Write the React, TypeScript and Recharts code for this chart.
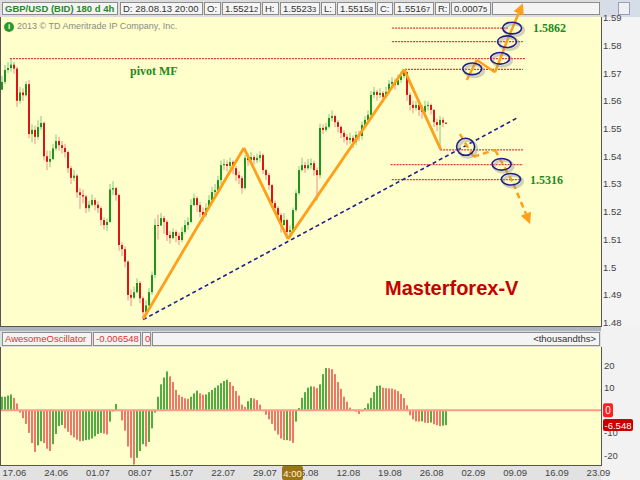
import React from "react";
import {
  ComposedChart,
  Bar,
  Cell,
  XAxis,
  YAxis,
  CartesianGrid,
  ReferenceLine,
  ReferenceDot,
} from "recharts";

// GBP/USD, one bar per ~half day
const FIRST_OPEN = 1.564;
const CLOSE = [
  1.5668, 1.5711, 1.5718, 1.573, 1.5716, 1.56, 1.563, 1.562, 1.566, 1.548,
  1.5495, 1.547, 1.5505, 1.552, 1.54, 1.538, 1.539, 1.5428, 1.5455, 1.544,
  1.543, 1.5415, 1.5357, 1.5322, 1.533, 1.527, 1.526, 1.5255, 1.5213, 1.5225,
  1.5242, 1.5225, 1.5213, 1.517, 1.5152, 1.5163, 1.528, 1.5285, 1.526, 1.508,
  1.5065, 1.502, 1.49, 1.489, 1.491, 1.4943, 1.4888, 1.4838, 1.4862, 1.491,
  1.4972, 1.5152, 1.515, 1.5177, 1.5163, 1.5116, 1.5105, 1.5127, 1.5113, 1.5098,
  1.5127, 1.5152, 1.5163, 1.5224, 1.5249, 1.5224, 1.5199, 1.5188, 1.5213, 1.5242,
  1.5271, 1.5278, 1.5314, 1.5368, 1.5372, 1.5365, 1.5379, 1.5357, 1.5332, 1.5321,
  1.5285, 1.5394, 1.5386, 1.5397, 1.5386, 1.5394, 1.5404, 1.535, 1.5332, 1.5296,
  1.5231, 1.5213, 1.5188, 1.5152, 1.517, 1.5127, 1.5134, 1.5206, 1.5267, 1.535,
  1.5368, 1.5357, 1.5368, 1.5375, 1.535, 1.5332, 1.5502, 1.5495, 1.5506, 1.5538,
  1.5545, 1.5523, 1.5506, 1.5484, 1.547, 1.5459, 1.5466, 1.5452, 1.5477, 1.5473,
  1.5513, 1.5531, 1.5549, 1.5621, 1.5632, 1.5621, 1.5628, 1.5614, 1.5632, 1.5661,
  1.5668, 1.5657, 1.5675, 1.5689, 1.5704, 1.5621, 1.5585, 1.5574, 1.5585, 1.5567,
  1.556, 1.5581, 1.5585, 1.5567, 1.5523, 1.5513, 1.5531, 1.5521, 1.5517,
];
const HIGH = [
  1.569, 1.5729, 1.574, 1.5752, 1.574, 1.5722, 1.565, 1.5645, 1.567, 1.5675,
  1.5515, 1.551, 1.553, 1.5545, 1.5525, 1.542, 1.542, 1.5445, 1.5478, 1.547,
  1.5455, 1.5445, 1.542, 1.5365, 1.535, 1.5335, 1.5285, 1.528, 1.526, 1.524,
  1.5262, 1.525, 1.5238, 1.522, 1.518, 1.5175, 1.53, 1.531, 1.529, 1.5265,
  1.509, 1.5075, 1.5025, 1.492, 1.493, 1.496, 1.495, 1.4895, 1.488, 1.4925,
  1.4985, 1.5175, 1.519, 1.5195, 1.5185, 1.517, 1.513, 1.514, 1.5135, 1.5125,
  1.5145, 1.517, 1.518, 1.5245, 1.5265, 1.5255, 1.5235, 1.5215, 1.523, 1.526,
  1.529, 1.53, 1.533, 1.5385, 1.539, 1.5385, 1.5395, 1.5385, 1.5365, 1.5345,
  1.533, 1.5405, 1.541, 1.5415, 1.5405, 1.541, 1.5418, 1.541, 1.5355, 1.534,
  1.53, 1.524, 1.522, 1.5195, 1.5195, 1.5175, 1.515, 1.5215, 1.528, 1.5365,
  1.5395, 1.538, 1.539, 1.5392, 1.5385, 1.536, 1.5518, 1.5515, 1.552, 1.5552,
  1.5565, 1.555, 1.553, 1.551, 1.5495, 1.548, 1.5485, 1.5475, 1.549, 1.5492,
  1.5525, 1.5545, 1.5565, 1.5635, 1.565, 1.564, 1.5645, 1.5635, 1.565, 1.5675,
  1.5685, 1.568, 1.5695, 1.5705, 1.5714, 1.5705, 1.563, 1.56, 1.56, 1.5595,
  1.5585, 1.56, 1.5598, 1.559, 1.557, 1.5535, 1.5545, 1.554, 1.5523,
];
const LOW = [
  1.564, 1.566, 1.57, 1.5705, 1.5698, 1.5578, 1.559, 1.56, 1.5615, 1.5465,
  1.545, 1.5445, 1.546, 1.5495, 1.5385, 1.535, 1.536, 1.5385, 1.542, 1.542,
  1.541, 1.5395, 1.534, 1.53, 1.531, 1.525, 1.521, 1.523, 1.5195, 1.52,
  1.522, 1.5205, 1.5195, 1.515, 1.5135, 1.513, 1.516, 1.526, 1.524, 1.506,
  1.504, 1.5, 1.488, 1.486, 1.4885, 1.4905, 1.487, 1.4813, 1.4835, 1.486,
  1.49, 1.496, 1.51, 1.515, 1.512, 1.5095, 1.5085, 1.51, 1.509, 1.508,
  1.509, 1.512, 1.5135, 1.516, 1.522, 1.52, 1.518, 1.5165, 1.518, 1.521,
  1.524, 1.5255, 1.5265, 1.53, 1.535, 1.5345, 1.5355, 1.5335, 1.531, 1.53,
  1.5265, 1.528, 1.5365, 1.5375, 1.537, 1.5375, 1.538, 1.5335, 1.5315, 1.528,
  1.5215, 1.5195, 1.517, 1.5125, 1.515, 1.511, 1.5105, 1.513, 1.52, 1.526,
  1.5345, 1.534, 1.535, 1.5355, 1.533, 1.524, 1.532, 1.548, 1.5488, 1.55,
  1.5525, 1.5505, 1.5485, 1.5465, 1.545, 1.544, 1.5445, 1.543, 1.544, 1.5455,
  1.546, 1.551, 1.5525, 1.5545, 1.561, 1.56, 1.561, 1.5595, 1.561, 1.5625,
  1.565, 1.564, 1.5655, 1.5665, 1.568, 1.56, 1.5565, 1.5555, 1.5565, 1.5545,
  1.5535, 1.5555, 1.5565, 1.555, 1.5505, 1.549, 1.5426, 1.5505, 1.5516,
];
// Awesome Oscillator, thousandths
const AO = [
  6, 6, 6.5, 7, 5.5, 3, -1, -3.5, -6, -10,
  -14.5, -18.4, -15.5, -13.7, -14.5, -17, -18, -15, -10.5, -7,
  -6.5, -8, -9.5, -11, -12, -13, -13.7, -13.5, -13.2, -13,
  -12.5, -11.5, -10.5, -10, -10.3, -10.7, -5, -0.5, 2.8, 0,
  -4.5, -9, -16, -21, -24, -21, -18, -15, -16, -14,
  -8, -1, 6, 11.5, 14.5, 17.2, 15, 12.5, 9, 6.8,
  6, 5.3, 5.1, 6, 7.5, 8.7, 7.5, 6.9, 7, 8,
  9, 10, 11, 12, 13, 13.5, 12.5, 10.8, 8.5, 6.5,
  2.5, 1.5, 4, 5.4, 5.2, 4.5, 2.5, -0.4, -2, -4,
  -6, -9, -10.7, -12.5, -13.2, -13.2, -13.5, -14.4, -5, 1,
  5.5, 8, 10, 10.6, 10.5, 9.8, 11.5, 16, 18.7, 18.6,
  18.2, 16, 12.5, 9.5, 6, 3.8, 1.2, 0.3, -0.6, -1.6,
  -0.5, 1, 3, 5.5, 8, 10.8, 11, 10, 9.8, 9.7,
  9.6, 9.2, 8.5, 7.2, 5.4, 2.2, -2.2, -4, -4.9, -5,
  -4.9, -5.5, -5.6, -5.4, -6.2, -6.6, -7, -6.8, -6.548,
];

const PRICE_TICKS = [1.48, 1.49, 1.5, 1.51, 1.52, 1.53, 1.54, 1.55, 1.56, 1.57, 1.58, 1.59];
const OSC_TICKS = [20, 10, -10, -20, 0, -6.548];
const DATE_LABELS = ["17.06", "24.06", "01.07", "08.07", "15.07", "22.07", "29.07", "05.08", "12.08", "19.08", "26.08", "02.09", "09.09", "16.09", "23.09"];
const DATE_POS = [4.8, 18.7, 32.6, 46.6, 60.5, 74.4, 88.3, 102.2, 116.1, 130.0, 143.9, 157.8, 171.7, 185.6, 199.5];

// drawings on the price panel, [bar, price]
const WAVE = [[47.7, 1.4813], [81.3, 1.543], [96, 1.5102], [134.7, 1.5713], [146.9, 1.5425]];
const TREND = [[47.7, 1.4811], [172.2, 1.5537]];
const LEVELS = [
  { p: 1.5862, from: 130.7, to: 169.3 },
  { p: 1.5813, from: 130.7, to: 174.3 },
  { p: 1.5752, from: 3.3, to: 175 },
  { p: 1.5713, from: 135, to: 174.3 },
  { p: 1.5423, from: 146.7, to: 174.3 },
  { p: 1.537, from: 130.2, to: 174.3 },
  { p: 1.5316, from: 130.6, to: 173.9 },
];
const RINGS = [
  [170.7, 1.5862], [169, 1.5813], [166.7, 1.5753], [157.4, 1.5715],
  [155.2, 1.5434], [167.2, 1.5371], [170.3, 1.5317],
];
const UP_PATH = [[155.6, 1.5675], [158.9, 1.5747], [165, 1.5703], [168.9, 1.5813], [174.3, 1.5952]];
const DOWN_PATH = [[153.3, 1.548], [157.8, 1.5398], [165, 1.5423], [171.1, 1.5302], [176.7, 1.5156]];

const candles = CLOSE.map((c, i) => ({
  t: i + 0.5,
  open: i === 0 ? FIRST_OPEN : CLOSE[i - 1],
  high: HIGH[i],
  low: LOW[i],
  close: c,
  range: [LOW[i], HIGH[i]],
}));
const osc = AO.map((v, i) => ({ t: i + 0.5, ao: v, up: i === 0 || v >= AO[i - 1] }));

const FONT = "'Liberation Sans', Arial, sans-serif";
const SERIF = "'Liberation Serif', 'Times New Roman', serif";
const ORANGE = "#ff9f1a";
const NAVY = "#1e1e8c";
const X_DOMAIN: [number, number] = [0, 200.33];

const renderCandle = (props: any) => {
  const { x, y, width, height, payload } = props;
  if (!payload || height == null) return <g />;
  const { open, close, high, low } = payload;
  const cx = Math.round(x + width / 2);
  const k = height / (high - low || 1e-6);
  const top = y + (high - Math.max(open, close)) * k;
  const bot = y + (high - Math.min(open, close)) * k;
  const up = close >= open;
  return (
    <g>
      <line x1={cx} x2={cx} y1={y} y2={y + height} stroke={up ? "#82c882" : "#f08c8c"} strokeWidth={1} />
      <rect x={cx - 1} y={top} width={2} height={Math.max(1, bot - top)} fill={up ? "#1e961e" : "#dc1414"} />
    </g>
  );
};

const arrowShape = (dashed: boolean) => (props: any) => {
  const { x1, y1, x2, y2 } = props;
  const a = Math.atan2(y2 - y1, x2 - x1);
  const bx = x2 - 11 * Math.cos(a);
  const by = y2 - 11 * Math.sin(a);
  const px = -Math.sin(a) * 5.5;
  const py = Math.cos(a) * 5.5;
  return (
    <g>
      <line x1={x1} y1={y1} x2={bx} y2={by} stroke={ORANGE} strokeWidth={2.5} strokeDasharray={dashed ? "6 4" : undefined} />
      <polygon points={`${x2},${y2} ${bx + px},${by + py} ${bx - px},${by - py}`} fill={ORANGE} />
    </g>
  );
};

const ringShape = (props: any) => {
  const { cx, cy, index } = props;
  const big = index === 4;
  const rx = big ? 9 : 9.5;
  const ry = big ? 8.5 : 5.8;
  return (
    <g>
      <ellipse cx={cx + 2} cy={cy + 2} rx={rx} ry={ry} fill="none" stroke="#9a9a9a" strokeOpacity={0.45} strokeWidth={3} />
      <ellipse cx={cx} cy={cy} rx={rx} ry={ry} fill="none" stroke={NAVY} strokeWidth={1.6} />
    </g>
  );
};

const priceLabel = (text: string) => (props: any) => (
  <text x={props.cx} y={props.cy} dy={4} fill="#1d8a1d" fontSize={12} fontWeight="bold" fontFamily={SERIF}>
    {text}
  </text>
);

const PriceTick = ({ y, payload }: any) => (
  <text x={603} y={y} dy={3.5} fontSize={9.5} fill="#444" fontFamily={FONT}>
    {String(Math.round(payload.value * 100) / 100)}
  </text>
);

const OscTick = ({ y, payload }: any) => {
  const v = payload.value;
  if (v === 0)
    return (
      <g>
        <rect x={603} y={y - 7} width={10} height={14} rx={2} fill="#ff2020" />
        <text x={608} y={y} dy={3.5} textAnchor="middle" fontSize={10} fill="#fff" fontFamily={FONT}>0</text>
      </g>
    );
  if (v === AO[AO.length - 1])
    return (
      <g>
        <rect x={603} y={y - 6} width={30} height={12} rx={2} fill="#c80000" />
        <text x={618} y={y} dy={3.5} textAnchor="middle" fontSize={9.5} fill="#fff" fontFamily={FONT}>{v.toFixed(3)}</text>
      </g>
    );
  return (
    <text x={604} y={y} dy={3.5} fontSize={9.5} fill="#444" fontFamily={FONT}>{v}</text>
  );
};

const DateTick = ({ x, payload }: any) => {
  const label = DATE_LABELS[DATE_POS.indexOf(payload.value)];
  return (
    <g>
      <text x={x} y={129} textAnchor="middle" fontSize={9.5} fill="#444" fontFamily={FONT}>{label}</text>
      {label === "05.08" && (
        <g>
          <rect x={282} y={119} width={21} height={14} rx={2} fill="#9c7418" />
          <text x={292.5} y={129.5} textAnchor="middle" fontSize={9.5} fill="#fff4d0" fontFamily={FONT}>4:00</text>
        </g>
      )}
    </g>
  );
};

const HEADER = [
  { x: 2, w: 116, text: "GBP/USD (BID) 180 d 4h", sub: "", strong: true },
  { x: 120, w: 83, text: "D: 28.08.13 20:00", sub: "" },
  { x: 204, w: 17, text: "O:", sub: "" },
  { x: 222, w: 39, text: "1.5521", sub: "2" },
  { x: 262, w: 17, text: "H:", sub: "" },
  { x: 280, w: 40, text: "1.5523", sub: "3" },
  { x: 321, w: 15, text: "L:", sub: "" },
  { x: 337, w: 39, text: "1.5515", sub: "8" },
  { x: 377, w: 16, text: "C:", sub: "" },
  { x: 394, w: 40, text: "1.5516", sub: "7" },
  { x: 435, w: 15, text: "R:", sub: "" },
  { x: 451, w: 40, text: "0.0007", sub: "5" },
  { x: 492, w: 108, text: "", sub: "" },
];

const OSC_HEADER = [
  { x: 2, w: 90, text: "AwesomeOscillator" },
  { x: 93, w: 48, text: "-0.006548" },
  { x: 142, w: 9, text: "0" },
];

const cell = (x: number, y: number, w: number): React.CSSProperties => ({
  position: "absolute",
  left: x,
  top: y,
  width: w,
  height: 13,
  boxSizing: "border-box",
  border: "1px solid #8c8c8c",
  background: "#f4f4f4",
  fontSize: 9.5,
  lineHeight: "11px",
  paddingLeft: 2,
  whiteSpace: "nowrap",
  overflow: "hidden",
  color: "#333",
});

const pairs = (pts: number[][]) => pts.slice(1).map((p, i) => [pts[i], p]);

export default function App() {
  return (
    <div style={{ position: "absolute", left: 0, top: 0, width: 640, height: 480, overflow: "hidden", background: "#e2e2e2", fontFamily: FONT }}>
      {/* header strip */}
      <div style={{ position: "absolute", left: 0, top: 0, width: 601, height: 17, background: "#dcdcdc" }} />
      <div style={{ position: "absolute", left: 601, top: 0, width: 39, height: 17, background: "#d6dce8" }} />
      <div style={{ position: "absolute", left: 618, top: 2, width: 10, height: 11, background: "#eef0f4", border: "1px solid #9aa0b0" }} />
      {HEADER.map((c) => (
        <div key={c.x} style={{ ...cell(c.x, 2, c.w), color: c.strong ? "#1c8c1c" : "#333", fontWeight: c.strong ? "bold" : "normal" }}>
          {c.text}
          {c.sub && <span style={{ fontSize: 7.5 }}>{c.sub}</span>}
        </div>
      ))}
      {/* axis backgrounds */}
      <div style={{ position: "absolute", left: 601, top: 17, width: 39, height: 310, background: "#f4f4f4" }} />
      <div style={{ position: "absolute", left: 0, top: 326, width: 601, height: 5, background: "#aeb3c0" }} />
      <div style={{ position: "absolute", left: 0, top: 331, width: 601, height: 16, background: "#dedede" }} />
      {OSC_HEADER.map((c) => (
        <div key={c.x} style={{ ...cell(c.x, 332, c.w), height: 14, color: "#e03030", lineHeight: "12px" }}>{c.text}</div>
      ))}
      <div style={{ ...cell(152, 332, 448), height: 14, lineHeight: "12px", textAlign: "right", paddingRight: 3 }}>{"<thousandths>"}</div>
      <div style={{ position: "absolute", left: 601, top: 327, width: 39, height: 153, background: "#f2f2f2" }} />

      {/* price panel */}
      <div style={{ position: "absolute", left: 0, top: 0 }}>
        <ComposedChart width={640} height={332} data={candles} margin={{ top: 17, right: 0, bottom: 6, left: 0 }}>
          <CartesianGrid fill="#ffffcc" horizontal={false} vertical={false} />
          <XAxis type="number" dataKey="t" domain={X_DOMAIN} hide allowDataOverflow />
          <YAxis
            orientation="right"
            width={39}
            domain={[1.4788, 1.5902]}
            ticks={PRICE_TICKS}
            interval={0}
            allowDataOverflow
            axisLine={false}
            tickLine={false}
            tick={<PriceTick />}
          />
          {LEVELS.map((l) => (
            <ReferenceLine
              key={l.p}
              segment={[{ x: l.from, y: l.p }, { x: l.to, y: l.p }]}
              stroke="#e03a3a"
              strokeWidth={1.2}
              strokeDasharray="2 1"
              ifOverflow="visible"
            />
          ))}
          <Bar dataKey="range" barSize={2} shape={renderCandle} isAnimationActive={false} />
          <ReferenceLine
            segment={[{ x: TREND[0][0], y: TREND[0][1] }, { x: TREND[1][0], y: TREND[1][1] }]}
            stroke={NAVY}
            strokeWidth={1.6}
            strokeDasharray="4 3"
            ifOverflow="visible"
          />
          {pairs(WAVE).map(([a, b], i) => (
            <ReferenceLine key={"w" + i} segment={[{ x: a[0], y: a[1] }, { x: b[0], y: b[1] }]} stroke={ORANGE} strokeWidth={2.8} ifOverflow="visible" />
          ))}
          {pairs(UP_PATH).map(([a, b], i, arr) =>
            i === arr.length - 1 ? (
              <ReferenceLine key={"u" + i} segment={[{ x: a[0], y: a[1] }, { x: b[0], y: b[1] }]} shape={arrowShape(false)} ifOverflow="visible" />
            ) : (
              <ReferenceLine key={"u" + i} segment={[{ x: a[0], y: a[1] }, { x: b[0], y: b[1] }]} stroke={ORANGE} strokeWidth={2.5} ifOverflow="visible" />
            )
          )}
          {pairs(DOWN_PATH).map(([a, b], i, arr) =>
            i === arr.length - 1 ? (
              <ReferenceLine key={"d" + i} segment={[{ x: a[0], y: a[1] }, { x: b[0], y: b[1] }]} shape={arrowShape(true)} ifOverflow="visible" />
            ) : (
              <ReferenceLine key={"d" + i} segment={[{ x: a[0], y: a[1] }, { x: b[0], y: b[1] }]} stroke={ORANGE} strokeWidth={2.5} strokeDasharray="6 4" ifOverflow="visible" />
            )
          )}
          {RINGS.map(([t, p], i) => (
            <ReferenceDot key={"r" + i} x={t} y={p} r={6} shape={(props: any) => ringShape({ ...props, index: i })} ifOverflow="visible" />
          ))}
          <ReferenceDot x={177.7} y={1.5862} r={1} shape={priceLabel("1.5862")} ifOverflow="visible" />
          <ReferenceDot x={176.7} y={1.5316} r={1} shape={priceLabel("1.5316")} ifOverflow="visible" />
        </ComposedChart>
      </div>

      {/* oscillator panel */}
      <div style={{ position: "absolute", left: 0, top: 347 }}>
        <ComposedChart width={640} height={133} data={osc} margin={{ top: 0, right: 0, bottom: 0, left: 0 }}>
          <CartesianGrid fill="#ffffcc" horizontal={false} vertical={false} />
          <XAxis
            type="number"
            dataKey="t"
            domain={X_DOMAIN}
            allowDataOverflow
            ticks={DATE_POS}
            interval={0}
            height={15}
            axisLine={false}
            tickLine={false}
            tick={<DateTick />}
          />
          <YAxis
            orientation="right"
            width={39}
            domain={[-24.2, 28]}
            ticks={OSC_TICKS}
            interval={0}
            allowDataOverflow
            axisLine={false}
            tickLine={false}
            tick={<OscTick />}
          />
          <ReferenceLine y={0} stroke="#ff9b8a" strokeWidth={2} />
          <Bar dataKey="ao" barSize={2} isAnimationActive={false}>
            {osc.map((d) => (
              <Cell key={d.t} fill={d.up ? "#52ad40" : "#ee7868"} />
            ))}
          </Bar>
        </ComposedChart>
      </div>

      {/* frame lines */}
      <div style={{ position: "absolute", left: 0, top: 17, width: 1, height: 309, background: "#555" }} />
      <div style={{ position: "absolute", left: 601, top: 17, width: 1, height: 309, background: "#555" }} />
      <div style={{ position: "absolute", left: 0, top: 326, width: 602, height: 1, background: "#555" }} />
      <div style={{ position: "absolute", left: 0, top: 347, width: 1, height: 118, background: "#555" }} />
      <div style={{ position: "absolute", left: 601, top: 347, width: 1, height: 118, background: "#555" }} />
      <div style={{ position: "absolute", left: 0, top: 465, width: 602, height: 1, background: "#555" }} />

      {/* texts on the price panel */}
      <div style={{ position: "absolute", left: 4, top: 22, width: 10, height: 10, borderRadius: 5, background: "#2a9a2a", color: "#fff", fontSize: 8, lineHeight: "10px", textAlign: "center", fontWeight: "bold" }}>i</div>
      <div style={{ position: "absolute", left: 17, top: 21, fontSize: 9, color: "#8a8a8a", whiteSpace: "nowrap" }}>2013 © TD Ameritrade IP Company, Inc.</div>
      <div style={{ position: "absolute", left: 130, top: 64, fontSize: 12, fontWeight: "bold", color: "#1d8a1d", fontFamily: SERIF, whiteSpace: "nowrap" }}>pivot MF</div>
      <div style={{ position: "absolute", left: 385, top: 277, fontSize: 20, fontWeight: "bold", color: "#c40000", whiteSpace: "nowrap" }}>Masterforex-V</div>
    </div>
  );
}
